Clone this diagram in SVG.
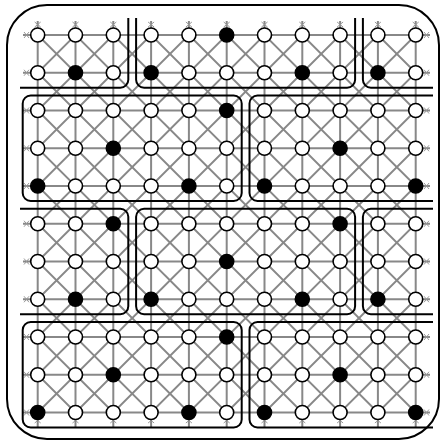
<svg xmlns="http://www.w3.org/2000/svg" width="443" height="443" viewBox="0 0 443 443">
<style>
.g{stroke:#888;stroke-width:2;fill:none}
.d{stroke:#888;stroke-width:1.8;fill:none}
.t{stroke:#999;stroke-width:1;fill:none}
.b{stroke:#000;stroke-width:2;fill:none}
.o{fill:#fff;stroke:#000;stroke-width:1.6}
.f{fill:#000;stroke:#000;stroke-width:1.6}
</style>
<defs>
<clipPath id="cl"><rect x="20" y="18" width="413" height="420"/></clipPath>
</defs>
<rect x="7" y="5" width="432" height="434" rx="40" class="b"/>
<g id="connectors">
<g id="grid-h">
<path class="g" d="M23 35H430M23 72.75H430M23 110.5H430M23 148.25H430M23 186H430M23 223.75H430M23 261.5H430M23 299.25H430M23 337H430M23 374.75H430M23 412.5H430"/>
</g>
<g id="grid-v">
<path class="g" d="M37.7 21V427M75.5 21V427M113.3 21V427M151.1 21V427M188.9 21V427M226.7 21V427M264.5 21V427M302.3 21V427M340.1 21V427M377.9 21V427M415.7 21V427"/>
</g>
<g id="grid-diag">
<path class="d" d="M37.7 35L415.7 412.5M75.5 35L415.7 374.75M113.3 35L415.7 337M151.1 35L415.7 299.25M188.9 35L415.7 261.5M226.7 35L415.7 223.75M264.5 35L415.7 186M302.3 35L415.7 148.25M340.1 35L415.7 110.5M377.9 35L415.7 72.75M37.7 72.75L377.9 412.5M37.7 110.5L340.1 412.5M37.7 148.25L302.3 412.5M37.7 186L264.5 412.5M37.7 223.75L226.7 412.5M37.7 261.5L188.9 412.5M37.7 299.25L151.1 412.5M37.7 337L113.3 412.5M37.7 374.75L75.5 412.5"/>
<path class="d" d="M75.5 35L37.7 72.75M113.3 35L37.7 110.5M151.1 35L37.7 148.25M188.9 35L37.7 186M226.7 35L37.7 223.75M264.5 35L37.7 261.5M302.3 35L37.7 299.25M340.1 35L37.7 337M377.9 35L37.7 374.75M415.7 35L37.7 412.5M415.7 72.75L75.5 412.5M415.7 110.5L113.3 412.5M415.7 148.25L151.1 412.5M415.7 186L188.9 412.5M415.7 223.75L226.7 412.5M415.7 261.5L264.5 412.5M415.7 299.25L302.3 412.5M415.7 337L340.1 412.5M415.7 374.75L377.9 412.5"/>
</g>
<g id="stub-ticks">
<path class="t" d="M34.7 22l6 5M40.7 22l-6 5M72.5 22l6 5M78.5 22l-6 5M110.3 22l6 5M116.3 22l-6 5M148.1 22l6 5M154.1 22l-6 5M185.9 22l6 5M191.9 22l-6 5M223.7 22l6 5M229.7 22l-6 5M261.5 22l6 5M267.5 22l-6 5M299.3 22l6 5M305.3 22l-6 5M337.1 22l6 5M343.1 22l-6 5M374.9 22l6 5M380.9 22l-6 5M412.7 22l6 5M418.7 22l-6 5"/>
<path class="t" d="M34.7 418l6 5M40.7 418l-6 5M72.5 418l6 5M78.5 418l-6 5M110.3 418l6 5M116.3 418l-6 5M148.1 418l6 5M154.1 418l-6 5M185.9 418l6 5M191.9 418l-6 5M223.7 418l6 5M229.7 418l-6 5M261.5 418l6 5M267.5 418l-6 5M299.3 418l6 5M305.3 418l-6 5M337.1 418l6 5M343.1 418l-6 5M374.9 418l6 5M380.9 418l-6 5M412.7 418l6 5M418.7 418l-6 5"/>
<path class="t" d="M24 32l5 6M24 38l5-6M24 69.75l5 6M24 75.75l5-6M24 107.5l5 6M24 113.5l5-6M24 145.25l5 6M24 151.25l5-6M24 183l5 6M24 189l5-6M24 220.75l5 6M24 226.75l5-6M24 258.5l5 6M24 264.5l5-6M24 296.25l5 6M24 302.25l5-6M24 334l5 6M24 340l5-6M24 371.75l5 6M24 377.75l5-6M24 409.5l5 6M24 415.5l5-6"/>
<path class="t" d="M424 32l5 6M424 38l5-6M424 69.75l5 6M424 75.75l5-6M424 107.5l5 6M424 113.5l5-6M424 145.25l5 6M424 151.25l5-6M424 183l5 6M424 189l5-6M424 220.75l5 6M424 226.75l5-6M424 258.5l5 6M424 264.5l5-6M424 296.25l5 6M424 302.25l5-6M424 334l5 6M424 340l5-6M424 371.75l5 6M424 377.75l5-6M424 409.5l5 6M424 415.5l5-6"/>
</g>
</g>
<g id="regions" clip-path="url(#cl)">
<rect class="b" x="-60" y="-50" width="188.3" height="137.75" rx="8"/>
<rect class="b" x="136.1" y="-50" width="219" height="137.75" rx="8"/>
<rect class="b" x="362.9" y="-50" width="160" height="137.75" rx="8"/>
<rect class="b" x="22.7" y="95.5" width="219" height="105.5" rx="8"/>
<rect class="b" x="249.5" y="95.5" width="260" height="105.5" rx="8"/>
<rect class="b" x="-60" y="208.75" width="188.3" height="105.5" rx="8"/>
<rect class="b" x="136.1" y="208.75" width="219" height="105.5" rx="8"/>
<rect class="b" x="362.9" y="208.75" width="160" height="105.5" rx="8"/>
<rect class="b" x="22.7" y="322" width="219" height="105.5" rx="8"/>
<rect class="b" x="249.5" y="322" width="260" height="105.5" rx="8"/>
</g>
<g id="nodes">
<g id="n0-0"><circle class="o" cx="37.7" cy="35" r="7"/></g>
<g id="n0-1"><circle class="o" cx="75.5" cy="35" r="7"/></g>
<g id="n0-2"><circle class="o" cx="113.3" cy="35" r="7"/></g>
<g id="n0-3"><circle class="o" cx="151.1" cy="35" r="7"/></g>
<g id="n0-4"><circle class="o" cx="188.9" cy="35" r="7"/></g>
<g id="n0-5"><circle class="f" cx="226.7" cy="35" r="7"/></g>
<g id="n0-6"><circle class="o" cx="264.5" cy="35" r="7"/></g>
<g id="n0-7"><circle class="o" cx="302.3" cy="35" r="7"/></g>
<g id="n0-8"><circle class="o" cx="340.1" cy="35" r="7"/></g>
<g id="n0-9"><circle class="o" cx="377.9" cy="35" r="7"/></g>
<g id="n0-10"><circle class="o" cx="415.7" cy="35" r="7"/></g>
<g id="n1-0"><circle class="o" cx="37.7" cy="72.75" r="7"/></g>
<g id="n1-1"><circle class="f" cx="75.5" cy="72.75" r="7"/></g>
<g id="n1-2"><circle class="o" cx="113.3" cy="72.75" r="7"/></g>
<g id="n1-3"><circle class="f" cx="151.1" cy="72.75" r="7"/></g>
<g id="n1-4"><circle class="o" cx="188.9" cy="72.75" r="7"/></g>
<g id="n1-5"><circle class="o" cx="226.7" cy="72.75" r="7"/></g>
<g id="n1-6"><circle class="o" cx="264.5" cy="72.75" r="7"/></g>
<g id="n1-7"><circle class="f" cx="302.3" cy="72.75" r="7"/></g>
<g id="n1-8"><circle class="o" cx="340.1" cy="72.75" r="7"/></g>
<g id="n1-9"><circle class="f" cx="377.9" cy="72.75" r="7"/></g>
<g id="n1-10"><circle class="o" cx="415.7" cy="72.75" r="7"/></g>
<g id="n2-0"><circle class="o" cx="37.7" cy="110.5" r="7"/></g>
<g id="n2-1"><circle class="o" cx="75.5" cy="110.5" r="7"/></g>
<g id="n2-2"><circle class="o" cx="113.3" cy="110.5" r="7"/></g>
<g id="n2-3"><circle class="o" cx="151.1" cy="110.5" r="7"/></g>
<g id="n2-4"><circle class="o" cx="188.9" cy="110.5" r="7"/></g>
<g id="n2-5"><circle class="f" cx="226.7" cy="110.5" r="7"/></g>
<g id="n2-6"><circle class="o" cx="264.5" cy="110.5" r="7"/></g>
<g id="n2-7"><circle class="o" cx="302.3" cy="110.5" r="7"/></g>
<g id="n2-8"><circle class="o" cx="340.1" cy="110.5" r="7"/></g>
<g id="n2-9"><circle class="o" cx="377.9" cy="110.5" r="7"/></g>
<g id="n2-10"><circle class="o" cx="415.7" cy="110.5" r="7"/></g>
<g id="n3-0"><circle class="o" cx="37.7" cy="148.25" r="7"/></g>
<g id="n3-1"><circle class="o" cx="75.5" cy="148.25" r="7"/></g>
<g id="n3-2"><circle class="f" cx="113.3" cy="148.25" r="7"/></g>
<g id="n3-3"><circle class="o" cx="151.1" cy="148.25" r="7"/></g>
<g id="n3-4"><circle class="o" cx="188.9" cy="148.25" r="7"/></g>
<g id="n3-5"><circle class="o" cx="226.7" cy="148.25" r="7"/></g>
<g id="n3-6"><circle class="o" cx="264.5" cy="148.25" r="7"/></g>
<g id="n3-7"><circle class="o" cx="302.3" cy="148.25" r="7"/></g>
<g id="n3-8"><circle class="f" cx="340.1" cy="148.25" r="7"/></g>
<g id="n3-9"><circle class="o" cx="377.9" cy="148.25" r="7"/></g>
<g id="n3-10"><circle class="o" cx="415.7" cy="148.25" r="7"/></g>
<g id="n4-0"><circle class="f" cx="37.7" cy="186" r="7"/></g>
<g id="n4-1"><circle class="o" cx="75.5" cy="186" r="7"/></g>
<g id="n4-2"><circle class="o" cx="113.3" cy="186" r="7"/></g>
<g id="n4-3"><circle class="o" cx="151.1" cy="186" r="7"/></g>
<g id="n4-4"><circle class="f" cx="188.9" cy="186" r="7"/></g>
<g id="n4-5"><circle class="o" cx="226.7" cy="186" r="7"/></g>
<g id="n4-6"><circle class="f" cx="264.5" cy="186" r="7"/></g>
<g id="n4-7"><circle class="o" cx="302.3" cy="186" r="7"/></g>
<g id="n4-8"><circle class="o" cx="340.1" cy="186" r="7"/></g>
<g id="n4-9"><circle class="o" cx="377.9" cy="186" r="7"/></g>
<g id="n4-10"><circle class="f" cx="415.7" cy="186" r="7"/></g>
<g id="n5-0"><circle class="o" cx="37.7" cy="223.75" r="7"/></g>
<g id="n5-1"><circle class="o" cx="75.5" cy="223.75" r="7"/></g>
<g id="n5-2"><circle class="f" cx="113.3" cy="223.75" r="7"/></g>
<g id="n5-3"><circle class="o" cx="151.1" cy="223.75" r="7"/></g>
<g id="n5-4"><circle class="o" cx="188.9" cy="223.75" r="7"/></g>
<g id="n5-5"><circle class="o" cx="226.7" cy="223.75" r="7"/></g>
<g id="n5-6"><circle class="o" cx="264.5" cy="223.75" r="7"/></g>
<g id="n5-7"><circle class="o" cx="302.3" cy="223.75" r="7"/></g>
<g id="n5-8"><circle class="f" cx="340.1" cy="223.75" r="7"/></g>
<g id="n5-9"><circle class="o" cx="377.9" cy="223.75" r="7"/></g>
<g id="n5-10"><circle class="o" cx="415.7" cy="223.75" r="7"/></g>
<g id="n6-0"><circle class="o" cx="37.7" cy="261.5" r="7"/></g>
<g id="n6-1"><circle class="o" cx="75.5" cy="261.5" r="7"/></g>
<g id="n6-2"><circle class="o" cx="113.3" cy="261.5" r="7"/></g>
<g id="n6-3"><circle class="o" cx="151.1" cy="261.5" r="7"/></g>
<g id="n6-4"><circle class="o" cx="188.9" cy="261.5" r="7"/></g>
<g id="n6-5"><circle class="f" cx="226.7" cy="261.5" r="7"/></g>
<g id="n6-6"><circle class="o" cx="264.5" cy="261.5" r="7"/></g>
<g id="n6-7"><circle class="o" cx="302.3" cy="261.5" r="7"/></g>
<g id="n6-8"><circle class="o" cx="340.1" cy="261.5" r="7"/></g>
<g id="n6-9"><circle class="o" cx="377.9" cy="261.5" r="7"/></g>
<g id="n6-10"><circle class="o" cx="415.7" cy="261.5" r="7"/></g>
<g id="n7-0"><circle class="o" cx="37.7" cy="299.25" r="7"/></g>
<g id="n7-1"><circle class="f" cx="75.5" cy="299.25" r="7"/></g>
<g id="n7-2"><circle class="o" cx="113.3" cy="299.25" r="7"/></g>
<g id="n7-3"><circle class="f" cx="151.1" cy="299.25" r="7"/></g>
<g id="n7-4"><circle class="o" cx="188.9" cy="299.25" r="7"/></g>
<g id="n7-5"><circle class="o" cx="226.7" cy="299.25" r="7"/></g>
<g id="n7-6"><circle class="o" cx="264.5" cy="299.25" r="7"/></g>
<g id="n7-7"><circle class="f" cx="302.3" cy="299.25" r="7"/></g>
<g id="n7-8"><circle class="o" cx="340.1" cy="299.25" r="7"/></g>
<g id="n7-9"><circle class="f" cx="377.9" cy="299.25" r="7"/></g>
<g id="n7-10"><circle class="o" cx="415.7" cy="299.25" r="7"/></g>
<g id="n8-0"><circle class="o" cx="37.7" cy="337" r="7"/></g>
<g id="n8-1"><circle class="o" cx="75.5" cy="337" r="7"/></g>
<g id="n8-2"><circle class="o" cx="113.3" cy="337" r="7"/></g>
<g id="n8-3"><circle class="o" cx="151.1" cy="337" r="7"/></g>
<g id="n8-4"><circle class="o" cx="188.9" cy="337" r="7"/></g>
<g id="n8-5"><circle class="f" cx="226.7" cy="337" r="7"/></g>
<g id="n8-6"><circle class="o" cx="264.5" cy="337" r="7"/></g>
<g id="n8-7"><circle class="o" cx="302.3" cy="337" r="7"/></g>
<g id="n8-8"><circle class="o" cx="340.1" cy="337" r="7"/></g>
<g id="n8-9"><circle class="o" cx="377.9" cy="337" r="7"/></g>
<g id="n8-10"><circle class="o" cx="415.7" cy="337" r="7"/></g>
<g id="n9-0"><circle class="o" cx="37.7" cy="374.75" r="7"/></g>
<g id="n9-1"><circle class="o" cx="75.5" cy="374.75" r="7"/></g>
<g id="n9-2"><circle class="f" cx="113.3" cy="374.75" r="7"/></g>
<g id="n9-3"><circle class="o" cx="151.1" cy="374.75" r="7"/></g>
<g id="n9-4"><circle class="o" cx="188.9" cy="374.75" r="7"/></g>
<g id="n9-5"><circle class="o" cx="226.7" cy="374.75" r="7"/></g>
<g id="n9-6"><circle class="o" cx="264.5" cy="374.75" r="7"/></g>
<g id="n9-7"><circle class="o" cx="302.3" cy="374.75" r="7"/></g>
<g id="n9-8"><circle class="f" cx="340.1" cy="374.75" r="7"/></g>
<g id="n9-9"><circle class="o" cx="377.9" cy="374.75" r="7"/></g>
<g id="n9-10"><circle class="o" cx="415.7" cy="374.75" r="7"/></g>
<g id="n10-0"><circle class="f" cx="37.7" cy="412.5" r="7"/></g>
<g id="n10-1"><circle class="o" cx="75.5" cy="412.5" r="7"/></g>
<g id="n10-2"><circle class="o" cx="113.3" cy="412.5" r="7"/></g>
<g id="n10-3"><circle class="o" cx="151.1" cy="412.5" r="7"/></g>
<g id="n10-4"><circle class="f" cx="188.9" cy="412.5" r="7"/></g>
<g id="n10-5"><circle class="o" cx="226.7" cy="412.5" r="7"/></g>
<g id="n10-6"><circle class="f" cx="264.5" cy="412.5" r="7"/></g>
<g id="n10-7"><circle class="o" cx="302.3" cy="412.5" r="7"/></g>
<g id="n10-8"><circle class="o" cx="340.1" cy="412.5" r="7"/></g>
<g id="n10-9"><circle class="o" cx="377.9" cy="412.5" r="7"/></g>
<g id="n10-10"><circle class="f" cx="415.7" cy="412.5" r="7"/></g>
</g>
</svg>
